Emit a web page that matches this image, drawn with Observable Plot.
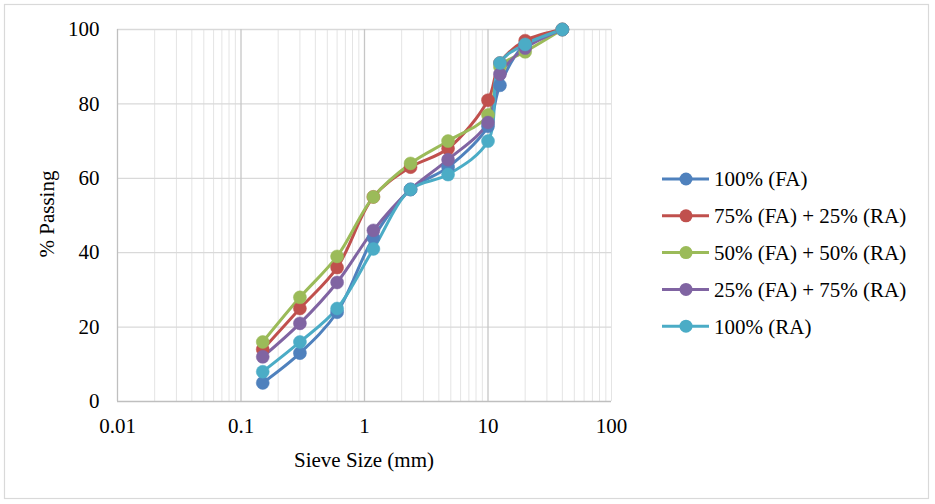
<!DOCTYPE html>
<html>
<head>
<meta charset="utf-8">
<script src="https://cdn.jsdelivr.net/npm/d3@7"></script>
<script src="https://cdn.jsdelivr.net/npm/@observablehq/plot@0.6"></script>
<style>
  html, body { margin: 0; padding: 0; background: #fff; }
  #chart { position: relative; width: 935px; height: 504px; }
</style>
</head>
<body>
<div id="chart"></div>
<script>
const sieveSizes = [0.15, 0.3, 0.6, 1.18, 2.36, 4.75, 10, 12.5, 20, 40];
const seriesNames = ["100% (FA)", "75% (FA) + 25% (RA)", "50% (FA) + 50% (RA)", "25% (FA) + 75% (RA)", "100% (RA)"];
const fa100   = [5, 13, 24, 44, 57, 63, 74, 85, 96, 100];
const fa75ra25 = [14, 25, 36, 55, 63, 68, 81, 91, 97, 100];
const fa50ra50 = [16, 28, 39, 55, 64, 70, 77, 90, 94, 100];
const fa25ra75 = [12, 21, 32, 46, 57, 65, 75, 88, 95, 100];
const ra100   = [8, 16, 25, 41, 57, 61, 70, 91, 96, 100];
const seriesColors = ["#4F81BD", "#C0504D", "#9BBB59", "#8064A2", "#4BACC6"];
const xTicks = [0.01, 0.1, 1, 10, 100];
const yTicks = [0, 20, 40, 60, 80, 100];

const seriesValues = [fa100, fa75ra25, fa50ra50, fa25ra75, ra100];
const data = [];
seriesValues.forEach((vals, si) => {
  vals.forEach((v, i) => data.push({series: seriesNames[si], size: sieveSizes[i], pass: v}));
});

const minorX = [];
[0.01, 0.1, 1, 10].forEach(d => { for (let k = 2; k <= 9; k++) minorX.push(+(d * k).toPrecision(3)); });

const font = "'Liberation Serif', 'Times New Roman', serif";

const plot = Plot.plot({
  width: 935,
  height: 504,
  marginLeft: 117,
  marginRight: 324,
  marginTop: 29,
  marginBottom: 103,
  style: {fontFamily: font, fontSize: "21px", color: "#000", background: "transparent"},
  x: {type: "log", domain: [0.01, 100], ticks: xTicks, tickFormat: d => String(d), label: null},
  y: {domain: [0, 100], ticks: yTicks, label: null},
  color: {domain: seriesNames, range: seriesColors},
  marks: [
    Plot.ruleX(minorX, {stroke: "#e4e4e4", strokeWidth: 1, strokeOpacity: 1}),
    Plot.ruleY(yTicks.filter(d => d > 0), {stroke: "#d9d9d9", strokeWidth: 1.3, strokeOpacity: 1}),
    Plot.ruleX(xTicks.slice(1, 4), {stroke: "#c6c6c6", strokeWidth: 1.3, strokeOpacity: 1}),
    Plot.ruleX([0.01], {stroke: "#bfbfbf", strokeWidth: 1.3}),
    Plot.ruleX([100], {stroke: "#e4e4e4", strokeWidth: 1}),
    Plot.ruleY([0], {stroke: "#bfbfbf", strokeWidth: 1.3}),
    Plot.axisX({ticks: xTicks, tickFormat: d => String(d), tickSize: 0, tickPadding: 17, fontSize: 21, label: null}),
    Plot.axisY({ticks: yTicks, tickSize: 0, tickPadding: 18, fontSize: 21, label: null}),
    Plot.line(data, {x: "size", y: "pass", z: "series", stroke: "series", strokeWidth: 3, curve: "catmull-rom"}),
    Plot.dot(data, {x: "size", y: "pass", fill: "series", r: 6.5, stroke: "series", strokeWidth: 0.5})
  ]
});

const svg = d3.select(plot);
// outer border
svg.insert("rect", ":first-child")
  .attr("x", 4.5).attr("y", 4.5).attr("width", 924).attr("height", 494)
  .attr("fill", "#fff").attr("stroke", "#d9d9d9").attr("stroke-width", 1.2);

// axis titles
svg.append("text").attr("x", 364).attr("y", 460).attr("dy", "0.35em")
  .attr("text-anchor", "middle").attr("font-family", font).attr("font-size", 21).attr("fill", "#000")
  .text("Sieve Size (mm)");
svg.append("text").attr("transform", "translate(47,214) rotate(-90)").attr("dy", "0.35em")
  .attr("text-anchor", "middle").attr("font-family", font).attr("font-size", 21).attr("fill", "#000")
  .text("% Passing");

// legend
const lg = svg.append("g").attr("font-family", font).attr("font-size", 21).attr("text-anchor", "start");
const legendY0 = 179, legendStep = 36.8;
seriesNames.forEach((name, i) => {
  const yy = legendY0 + i * legendStep;
  lg.append("line").attr("x1", 662).attr("x2", 709).attr("y1", yy).attr("y2", yy)
    .attr("stroke", seriesColors[i]).attr("stroke-width", 3);
  lg.append("circle").attr("cx", 686).attr("cy", yy).attr("r", 6.5).attr("fill", seriesColors[i]);
  lg.append("text").attr("x", 714).attr("y", yy).attr("dy", "0.35em").attr("text-anchor", "start").attr("fill", "#000").text(name);
});

document.getElementById("chart").appendChild(plot);
</script>
</body>
</html>
